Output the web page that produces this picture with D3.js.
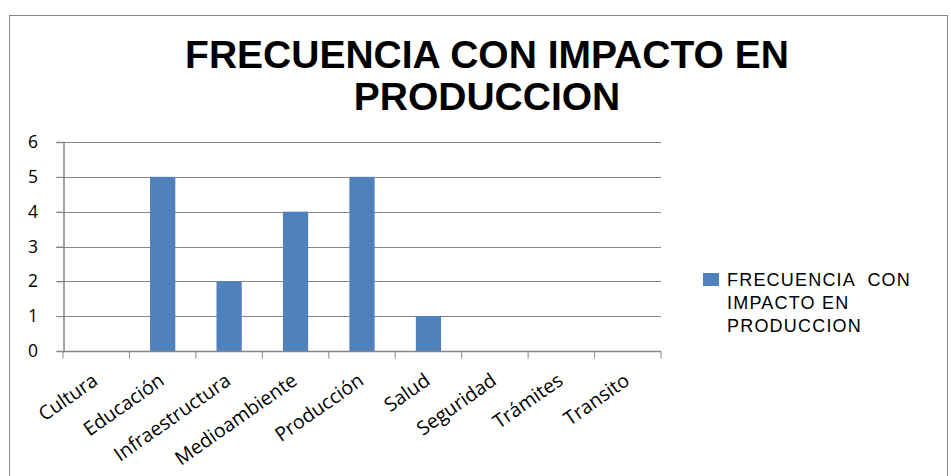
<!DOCTYPE html>
<html>
<head>
<meta charset="utf-8">
<script src="https://cdn.jsdelivr.net/npm/d3@7"></script>
<style>
  body { margin: 0; background: #fff; }
  text { font-family: "Liberation Sans", Arial, sans-serif; }
</style>
</head>
<body>
<div id="chart"></div>
<script>
// data
const categories = ["Cultura", "Educación", "Infraestructura", "Medioambiente", "Producción", "Salud", "Seguridad", "Trámites", "Transito"];
const values = [0, 5, 2, 4, 5, 1, 0, 0, 0];
const yTicks = [0, 1, 2, 3, 4, 5, 6];
const titleLines = ["FRECUENCIA CON IMPACTO EN", "PRODUCCION"];
const legendLines = ["FRECUENCIA  CON", "IMPACTO EN", "PRODUCCION"];

const W = 951, H = 476;
const plot = { left: 63, right: 661, top: 142, bottom: 351 };

const svg = d3.select("#chart").append("svg")
    .attr("width", W)
    .attr("height", H);

// outer frame
svg.append("rect")
    .attr("x", 9.5).attr("y", 15.5)
    .attr("width", 938).attr("height", 470)
    .attr("fill", "#fff")
    .attr("stroke", "#868686");

// title
const title = svg.append("g");
titleLines.forEach((t, i) => {
    title.append("text")
        .attr("x", 487)
        .attr("y", 68 + i * 42)
        .attr("text-anchor", "middle")
        .attr("font-weight", "bold")
        .attr("font-size", 39)
        .text(t);
});

const x = d3.scaleBand()
    .domain(categories)
    .range([plot.left, plot.right])
    .paddingInner(0.62)
    .paddingOuter(0.31);

const y = d3.scaleLinear()
    .domain([0, 6])
    .range([plot.bottom, plot.top]);

// gridlines
svg.append("g")
    .selectAll("line")
    .data(yTicks.slice(1))
    .join("line")
    .attr("x1", plot.left - 7).attr("x2", plot.right)
    .attr("y1", d => Math.round(y(d)) + 0.5)
    .attr("y2", d => Math.round(y(d)) + 0.5)
    .attr("stroke", "#868686");

// bars
svg.append("g")
    .selectAll("rect")
    .data(values)
    .join("rect")
    .attr("x", (d, i) => x(categories[i]))
    .attr("width", x.bandwidth())
    .attr("y", d => y(d))
    .attr("height", d => y(0) - y(d))
    .attr("fill", "#4F81BD");

// y axis
const yAxis = svg.append("g")
    .attr("transform", `translate(${plot.left + 0.5},0)`)
    .call(d3.axisLeft(y).tickValues(yTicks).tickFormat(d3.format("d")).tickSize(7).tickPadding(18.5));
yAxis.select(".domain").attr("stroke", "#868686").attr("stroke-width", 1.5);
yAxis.selectAll(".tick line").attr("stroke", "#868686");
yAxis.selectAll(".tick text")
    .attr("font-size", 17.5)
    .attr("fill", "#000")
    .style("font-family", "'Open Sans', sans-serif");

// x axis (ticks at band edges)
const xAxisG = svg.append("g")
    .attr("transform", `translate(0,${plot.bottom + 0.5})`);
xAxisG.append("line")
    .attr("x1", plot.left).attr("x2", plot.right)
    .attr("stroke", "#868686").attr("stroke-width", 1.5);
const step = (plot.right - plot.left) / categories.length;
xAxisG.selectAll(".edge")
    .data(d3.range(categories.length + 1))
    .join("line")
    .attr("class", "edge")
    .attr("x1", i => plot.left + i * step).attr("x2", i => plot.left + i * step)
    .attr("y1", 0).attr("y2", 7)
    .attr("stroke", "#868686");
xAxisG.selectAll(".lbl")
    .data(categories)
    .join("text")
    .attr("class", "lbl")
    .attr("text-anchor", "end")
    .attr("font-size", 19.5)
    .style("font-family", "'Open Sans', sans-serif")
    .attr("transform", d => `translate(${x(d) + x.bandwidth() / 2 + 3},${32}) rotate(-35)`)
    .text(d => d);

// legend
const legend = svg.append("g");
legend.append("rect")
    .attr("x", 703).attr("y", 273)
    .attr("width", 16).attr("height", 13)
    .attr("fill", "#4F81BD");
legendLines.forEach((t, i) => {
    legend.append("text")
        .attr("x", 727)
        .attr("y", 286 + i * 23)
        .attr("font-size", 18)
        .attr("letter-spacing", 1.2)
        .attr("xml:space", "preserve")
        .text(t);
});
</script>
</body>
</html>
